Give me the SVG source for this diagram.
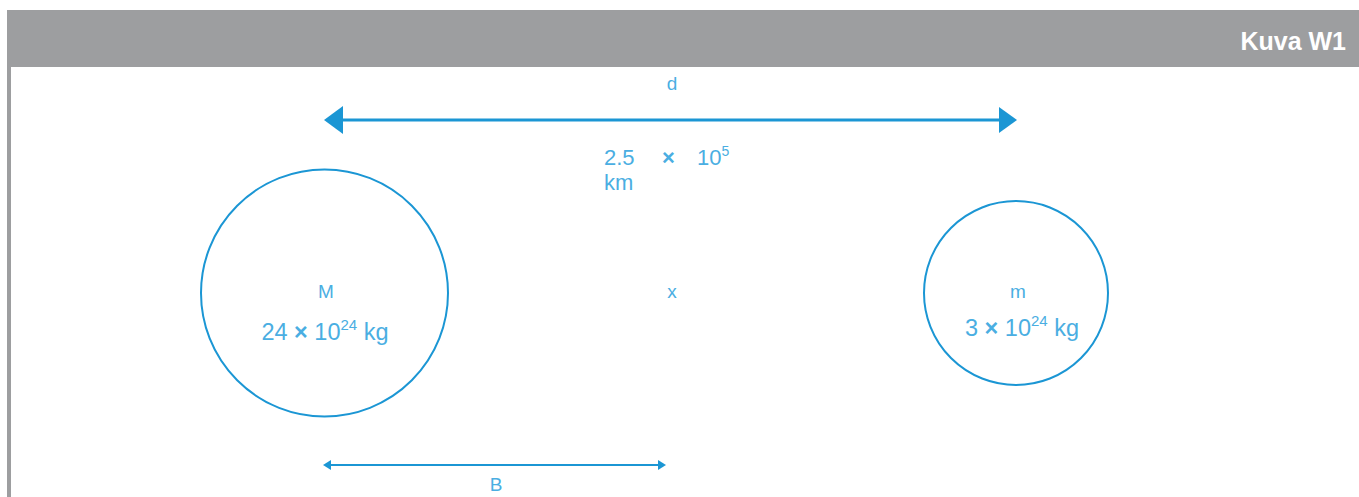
<svg xmlns="http://www.w3.org/2000/svg" width="1359" height="497" viewBox="0 0 1359 497">
<style>
.lbl{font-family:"Liberation Sans",Arial,sans-serif;fill:#4aaee2;}
.node{fill:none;stroke:#1b96d4;stroke-width:2;}
.conn{stroke:#1b96d4;fill:none;}
.head{fill:#1b96d4;stroke:none;}
</style>
<rect x="0" y="0" width="1359" height="497" fill="#ffffff"/>
<g id="frame">
<rect x="7" y="10" width="1352" height="57" fill="#9d9ea0"/>
<rect x="7" y="67" width="4" height="430" fill="#9d9ea0"/>
<text x="1346" y="50" font-family="Liberation Sans,Arial,sans-serif" font-weight="bold" font-size="25" fill="#ffffff" text-anchor="end">Kuva W1</text>
</g>
<g id="connectors">
<line class="conn" x1="340" y1="120" x2="1002" y2="120" stroke-width="3"/>
<polygon class="head" points="324,120 343,106 343,134"/>
<polygon class="head" points="1017,120 999,107 999,133"/>
<line class="conn" x1="328" y1="465" x2="661" y2="465" stroke-width="2"/>
<polygon class="head" points="323,465 331,460 331,470"/>
<polygon class="head" points="666,465 658,460 658,470"/>
</g>
<g id="label-d">
<text class="lbl" x="672" y="90" font-size="19" text-anchor="middle">d</text>
</g>
<g id="label-dist">
<text class="lbl" x="604" y="165" font-size="22">2.5<tspan x="662" font-weight="bold">×</tspan><tspan x="697">10</tspan><tspan font-size="14" dy="-9">5</tspan></text>
<text class="lbl" x="604" y="190" font-size="22">km</text>
</g>
<g id="node-M">
<circle class="node" cx="324.5" cy="293" r="123.5"/>
<text class="lbl" x="326" y="298" font-size="19" text-anchor="middle">M</text>
<text class="lbl" x="325" y="340" font-size="23.5" text-anchor="middle">24 <tspan font-weight="bold">×</tspan> 10<tspan font-size="15" dy="-10">24</tspan><tspan dy="10"> kg</tspan></text>
</g>
<g id="label-x">
<text class="lbl" x="672" y="298" font-size="19" text-anchor="middle">x</text>
</g>
<g id="node-m">
<circle class="node" cx="1016" cy="293" r="92"/>
<text class="lbl" x="1018" y="298" font-size="19" text-anchor="middle">m</text>
<text class="lbl" x="1022" y="336" font-size="23.5" text-anchor="middle">3 <tspan font-weight="bold">×</tspan> 10<tspan font-size="15" dy="-10">24</tspan><tspan dy="10"> kg</tspan></text>
</g>
<g id="label-B">
<text class="lbl" x="496" y="491" font-size="19" text-anchor="middle">B</text>
</g>
</svg>
